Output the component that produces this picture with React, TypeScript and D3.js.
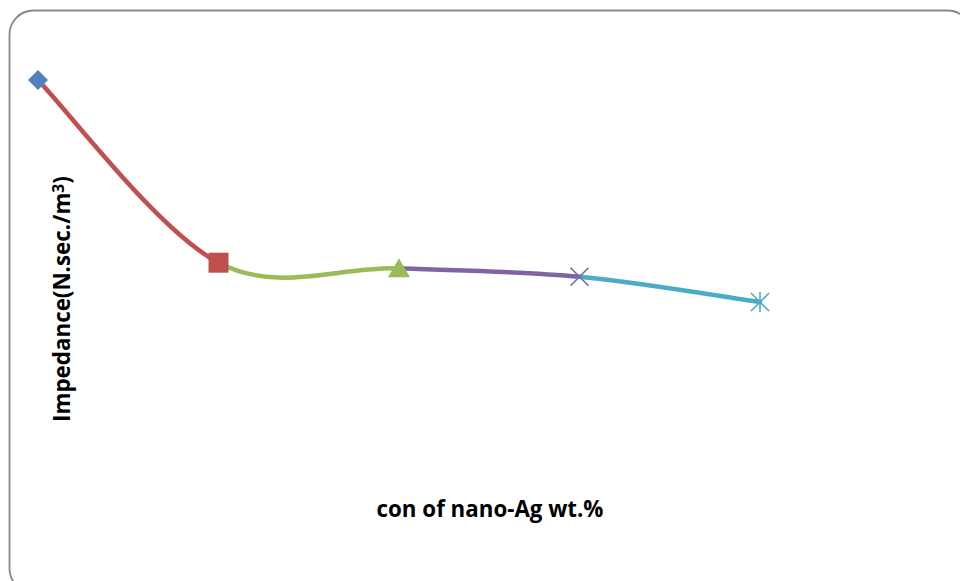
import React, { useEffect, useRef } from "react";
import * as d3 from "d3";

// concentration categories (axis is hidden in the original)
const concentrations = ["0", "1", "2", "3", "4"];
// impedance values (relative units)
const impedance = [3.5, 2.2, 2.16, 2.1, 1.92];
const pointColors = ["#4F81BD", "#C0504D", "#9BBB59", "#8064A2", "#4BACC6"];
const markerTypes = ["diamond", "square", "triangle", "x", "star"];

const xTitle = "con of nano-Ag wt.%";
const yTitle = "Impedance(N.sec./m";

const App = () => {
  const chartRef = useRef(null);

  useEffect(() => {
    const width = 960;
    const height = 581;

    d3.select(chartRef.current).select("svg").remove();

    const svg = d3
      .select(chartRef.current)
      .append("svg")
      .attr("width", width)
      .attr("height", height)
      .style("position", "absolute")
      .style("left", 0)
      .style("top", 0)
      .style("font-family", "'Open Sans', sans-serif");

    // chart area border (runs off the right and bottom edges)
    svg
      .append("rect")
      .attr("x", 9.5)
      .attr("y", 10.5)
      .attr("width", 962)
      .attr("height", 582)
      .attr("rx", 24)
      .attr("fill", "#fff")
      .attr("stroke", "#878787")
      .attr("stroke-width", 1.8);

    const xScale = d3.scalePoint().domain(concentrations).range([38, 760]);
    const yScale = d3.scaleLinear().domain([0, 4]).range([571.8, 9.8]);

    const pts = concentrations.map((c, i) => [xScale(c), yScale(impedance[i])]);

    // smoothed line, each segment coloured like the point it ends at
    const k = 1 / 6;
    for (let i = 0; i < pts.length - 1; i++) {
      const p0 = pts[Math.max(i - 1, 0)];
      const p1 = pts[i];
      const p2 = pts[i + 1];
      const p3 = pts[Math.min(i + 2, pts.length - 1)];
      const path = d3.path();
      path.moveTo(p1[0], p1[1]);
      path.bezierCurveTo(
        p1[0] + k * (p2[0] - p0[0]),
        p1[1] + k * (p2[1] - p0[1]),
        p2[0] - k * (p3[0] - p1[0]),
        p2[1] - k * (p3[1] - p1[1]),
        p2[0],
        p2[1]
      );
      svg
        .append("path")
        .attr("d", path.toString())
        .attr("fill", "none")
        .attr("stroke", pointColors[i + 1])
        .attr("stroke-width", 4.5)
        .attr("stroke-linecap", "round");
    }

    // markers
    pts.forEach(([x, y], i) => {
      const color = pointColors[i];
      const g = svg.append("g").attr("transform", `translate(${x},${y})`);
      switch (markerTypes[i]) {
        case "diamond":
          g.append("path")
            .attr("d", "M0,-10L10,0L0,10L-10,0Z")
            .attr("fill", color);
          break;
        case "square":
          g.append("rect")
            .attr("x", -10)
            .attr("y", -10)
            .attr("width", 20)
            .attr("height", 20)
            .attr("fill", color);
          break;
        case "triangle":
          g.append("path")
            .attr("d", "M0,-10L11,9L-11,9Z")
            .attr("fill", color);
          break;
        case "x":
          g.append("path")
            .attr("d", "M-9,-9L9,9M-9,9L9,-9")
            .attr("stroke", color)
            .attr("stroke-width", 1.6);
          break;
        case "star":
          g.append("path")
            .attr("d", "M-9,-9L9,9M-9,9L9,-9M0,-10L0,10")
            .attr("stroke", color)
            .attr("stroke-width", 1.6);
          break;
      }
    });

    // fit a title to the width it has in the original
    const fit = (sel, target) => {
      const len = sel.node().getComputedTextLength();
      const size = parseFloat(sel.style("font-size"));
      if (len > 0) sel.style("font-size", `${(size * target) / len}px`);
    };

    // axis titles
    const xt = svg
      .append("text")
      .attr("x", 490)
      .attr("y", 517)
      .attr("text-anchor", "middle")
      .style("font-size", "18px")
      .style("font-weight", "bold")
      .text(xTitle);
    fit(xt, 227);

    const yt = svg
      .append("text")
      .attr("transform", "translate(70,299) rotate(-90)")
      .attr("text-anchor", "middle")
      .style("font-size", "18px")
      .style("font-weight", "bold");
    yt.append("tspan").text(yTitle);
    yt.append("tspan").attr("dy", "-0.4em").style("font-size", "0.7em").text("3");
    yt.append("tspan").attr("dy", "0.28em").text(")");
    fit(yt, 246);
  }, []);

  return <div ref={chartRef}></div>;
};

export default App;
